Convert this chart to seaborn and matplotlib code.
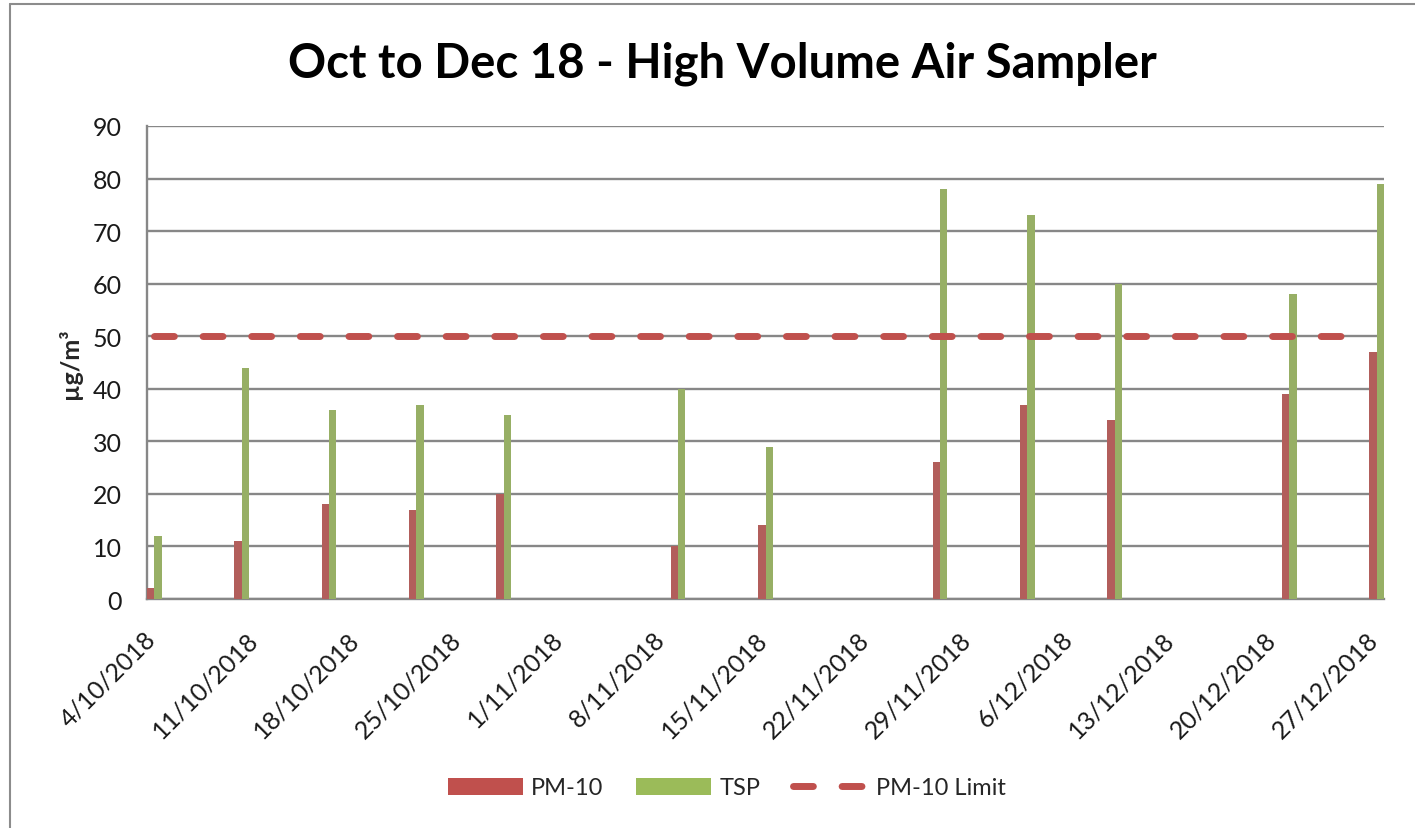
import matplotlib
matplotlib.use("Agg")
import matplotlib.pyplot as plt
import matplotlib.dates as mdates
from matplotlib.patches import Patch
from matplotlib.lines import Line2D
from matplotlib.ticker import FixedLocator, FixedFormatter, MultipleLocator
from matplotlib.transforms import ScaledTranslation
import seaborn as sns
import pandas as pd
import numpy as np

# ---------------- data ----------------
sample_dates = ["4/10/2018", "10/10/2018", "16/10/2018", "22/10/2018", "28/10/2018",
                "9/11/2018", "15/11/2018", "27/11/2018", "3/12/2018", "9/12/2018",
                "21/12/2018", "27/12/2018"]
pm10 = [2, 11, 18, 17, 20, 10, 14, 26, 37, 34, 39, 47]
tsp = [12, 44, 36, 37, 35, 40, 29, 78, 73, 60, 58, 79]
limit_dates = ["4/10/2018", "25/12/2018"]
limit_values = [50, 50]
tick_labels = ["4/10/2018", "11/10/2018", "18/10/2018", "25/10/2018", "1/11/2018",
               "8/11/2018", "15/11/2018", "22/11/2018", "29/11/2018", "6/12/2018",
               "13/12/2018", "20/12/2018", "27/12/2018"]
series_names = ["PM-10", "TSP"]
limit_name = "PM-10 Limit"
title = "Oct to Dec 18 - High Volume Air Sampler"
ylabel = "µg/m³"

RED = "#C0504D"
GREEN = "#9BBB59"
GRID = "#878787"

def to_num(lst):
    return mdates.date2num(pd.to_datetime(lst, dayfirst=True))

# each date occupies a one-day slot; bars sit in the middle of the slot
x_samples = to_num(sample_dates) + 0.5
df = pd.DataFrame({
    "x": np.concatenate([x_samples, x_samples]),
    "value": pm10 + tsp,
    "series": [series_names[0]] * len(pm10) + [series_names[1]] * len(tsp),
})
df_lim = pd.DataFrame({"x": to_num(limit_dates) + 0.5, "value": limit_values})

# ---------------- figure ----------------
sns.set_theme(style="white")
plt.rcParams["font.family"] = ["Lato", "DejaVu Sans"]

W, H = 1415, 829
fig = plt.figure(figsize=(W / 100, H / 100), dpi=100)
ax = fig.add_axes([147 / W, 1 - 600 / H, (1384 - 147) / W, (600 - 127) / H])

min_gap = np.min(np.diff(np.unique(x_samples)))
sns.barplot(data=df, x="x", y="value", hue="series", hue_order=series_names,
            palette=[RED, GREEN], native_scale=True, width=1.0 / min_gap,
            errorbar=None, legend=False, linewidth=0, ax=ax, zorder=3)

sns.lineplot(data=df_lim, x="x", y="value", color=RED, linewidth=5.0,
             ax=ax, zorder=4, legend=False)
lim_line = ax.lines[-1]
lim_line.set_dashes((2.86, 4.14))
lim_line.set_dash_capstyle("round")

# axes
tick_pos = to_num(tick_labels)
ax.set_xlim(tick_pos[0], tick_pos[-1] + 1)
ax.set_ylim(0, 90)
ax.xaxis.set_major_locator(FixedLocator(tick_pos))
ax.xaxis.set_major_formatter(FixedFormatter(tick_labels))
ax.yaxis.set_major_locator(MultipleLocator(10))
ax.grid(axis="y", color=GRID, linewidth=1.7, zorder=0)
ax.set_axisbelow(True)
for s in ["top", "right"]:
    ax.spines[s].set_visible(False)
for s in ["left", "bottom"]:
    ax.spines[s].set_color(GRID)
    ax.spines[s].set_linewidth(1.7)
ax.tick_params(axis="both", which="major", direction="out", length=6,
               width=1.7, color=GRID, labelsize=18, labelcolor="#1a1a1a")
ax.tick_params(axis="x", pad=14)
ax.tick_params(axis="y", pad=12)
ax.set_xlabel("")
ax.set_ylabel(ylabel, fontsize=18, fontweight="bold", labelpad=8)

offset = ScaledTranslation(13 / 100, 0, fig.dpi_scale_trans)
for lab in ax.get_xticklabels():
    lab.set_rotation(45)
    lab.set_ha("right")
    lab.set_va("top")
    lab.set_transform(lab.get_transform() + offset)

# title
fig.text(722 / W, 1 - 78 / H, title, ha="center", va="baseline",
         fontsize=34, fontweight="bold", color="#000000")

# legend
handles = [Patch(facecolor=RED, edgecolor="none"),
           Patch(facecolor=GREEN, edgecolor="none"),
           Line2D([0], [0], color=RED, linewidth=5.0, dashes=(2.86, 4.14),
                  dash_capstyle="round")]
fig.legend(handles, series_names + [limit_name], loc="center",
           bbox_to_anchor=(727 / W, 1 - 789 / H), ncol=3, frameon=False,
           fontsize=17, handlelength=3.18, handleheight=0.72,
           handletextpad=0.34, columnspacing=1.4)

# chart border (only top and left edges are inside the picture)
border_kw = dict(color="#8c8c8c", linewidth=1.5, transform=fig.transFigure)
fig.add_artist(Line2D([10 / W, 1.0], [1 - 5 / H, 1 - 5 / H], **border_kw))
fig.add_artist(Line2D([10 / W, 10 / W], [0.0, 1 - 5 / H], **border_kw))

fig.savefig("out.png", dpi=100, facecolor="white")
